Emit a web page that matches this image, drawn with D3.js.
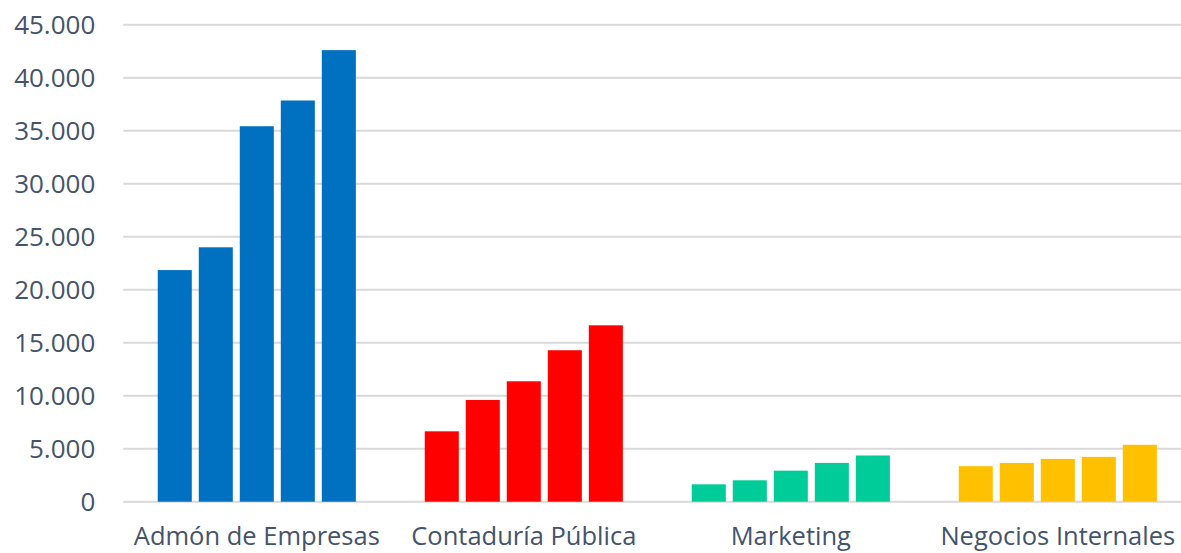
<!DOCTYPE html>
<html>
<head>
<meta charset="utf-8">
<script src="https://cdn.jsdelivr.net/npm/d3@7.9.0/dist/d3.min.js"></script>
<style>
  html, body { margin: 0; padding: 0; background: #fff; }
  svg { display: block; }
  .tick text { font-family: "Open Sans", sans-serif; fill: #44546A; }
</style>
</head>
<body>
<svg id="chart" width="1181" height="553"></svg>
<script>
// categories and bar colours
const categories = ['Admón de Empresas', 'Contaduría Pública', 'Marketing', 'Negocios Internales'];
const colors = ['#0070C0', '#FF0000', '#00CC99', '#FFC000'];

// five bars per category
const admon = [21850, 24000, 35420, 37850, 42600];
const contaduria = [6640, 9600, 11360, 14290, 16640];
const marketing = [1640, 2020, 2930, 3660, 4360];
const negocios = [3350, 3660, 4040, 4230, 5370];

const yTicks = [0, 5000, 10000, 15000, 20000, 25000, 30000, 35000, 40000, 45000];

const seriesValues = [admon, contaduria, marketing, negocios];
const barIdx = d3.range(admon.length);

const width = 1181, height = 553;
const margin = { top: 24.7, left: 123.3, bottom: 51.3 };
const bandW = 267;

const svg = d3.select('#chart');

let x0 = d3.scaleBand()
  .domain(categories)
  .range([margin.left, margin.left + bandW * categories.length]);

let x1 = d3.scaleBand()
  .domain(barIdx)
  .range([0, x0.bandwidth()])
  .paddingInner(0.17)
  .paddingOuter(0.84);

let y = d3.scaleLinear()
  .domain([0, 45000])
  .range([height - margin.bottom, margin.top]);

const fmt = d3.formatLocale({ decimal: ',', thousands: '.', grouping: [3], currency: ['', ''] }).format(',d');

// gridlines
svg.append('g')
  .selectAll('line')
  .data(yTicks)
  .join('line')
  .attr('x1', margin.left)
  .attr('x2', width)
  .attr('y1', d => y(d))
  .attr('y2', d => y(d))
  .attr('stroke', '#D9D9D9')
  .attr('stroke-width', 2);

// y axis labels
let yAxis = d3.axisLeft(y).tickValues(yTicks).tickFormat(fmt).tickSize(0).tickPadding(28);
svg.append('g')
  .attr('transform', `translate(${margin.left},0)`)
  .call(yAxis)
  .call(g => g.select('.domain').remove())
  .call(g => g.selectAll('text').attr('font-size', 26));

// bars
const groups = svg.append('g')
  .selectAll('g')
  .data(categories)
  .join('g')
  .attr('transform', d => `translate(${x0(d)},0)`);

groups.each(function(cat, ci) {
  d3.select(this).selectAll('rect')
    .data(seriesValues[ci])
    .join('rect')
    .attr('x', (d, i) => x1(i))
    .attr('width', x1.bandwidth())
    .attr('y', d => y(d))
    .attr('height', d => y(0) - y(d))
    .attr('fill', colors[ci]);
});

// category labels
let xAxis = d3.axisBottom(x0).tickSize(0).tickPadding(25);
svg.append('g')
  .attr('transform', `translate(0,${y(0)})`)
  .call(xAxis)
  .call(g => g.select('.domain').remove())
  .call(g => g.selectAll('text').attr('font-size', 25.5));
</script>
</body>
</html>
